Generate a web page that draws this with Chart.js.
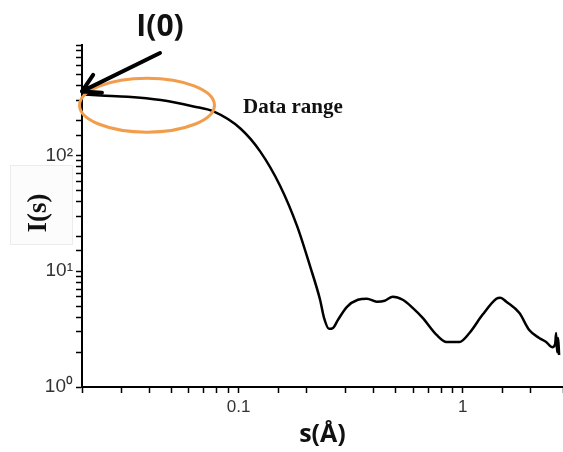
<!DOCTYPE html>
<html lang="en">

<head>
    <meta charset="UTF-8">
    <title>I(s) scattering curve</title>
    <script src="https://cdn.jsdelivr.net/npm/chart.js"></script>
    <style>
        body {
            margin: 0;
            background: #fff;
        }

        #chart {
            display: block;
        }
    </style>
</head>

<body>
    <canvas id="chart" width="563" height="452"></canvas>

    <script>
        // curve: s in 1/A, intensity in arbitrary units
        const sValues = [0.0202, 0.0243, 0.032, 0.0449, 0.0629, 0.0772, 0.1018, 0.1249, 0.1532, 0.1823,
            0.2084, 0.2308, 0.2404, 0.253, 0.2636, 0.2774, 0.3042, 0.3404, 0.3733, 0.4135,
            0.4487, 0.4871, 0.5395, 0.5975, 0.6623, 0.7642, 0.8467, 0.9667, 1.071, 1.224,
            1.412, 1.471, 1.564, 1.786, 1.979, 2.192, 2.355, 2.504, 2.583, 2.609, 2.636, 2.663, 2.69];
        const intensity = [337, 330, 322, 301, 265, 240, 171, 108, 54.5, 24.5,
            11.0, 5.67, 3.96, 3.18, 3.24, 3.80, 4.93, 5.67, 5.79, 5.45,
            5.56, 6.03, 5.67, 4.83, 3.96, 2.82, 2.45, 2.45, 2.93, 4.20,
            5.79, 5.91, 5.45, 4.37, 3.11, 2.65, 2.45, 2.21, 2.35, 2.93, 2.00, 2.65, 1.89];

        const xTickValues = [0.1, 1];
        const xTickLabels = ['0.1', '1'];
        const yTickValues = [1, 10, 100];
        const yTickLabels = ['10\u2070', '10\u00b9', '10\u00b2'];

        function pickLabel(v, values, labels) {
            const i = values.findIndex(t => Math.abs(v - t) / t < 1e-6);
            return i >= 0 ? labels[i] : '';
        }

        // extra drawing: y title box, I(0) arrow, orange ellipse, "Data range"
        const annotations = {
            id: 'annotations',
            afterDraw(chart) {
                const ctx = chart.ctx;
                const x = chart.scales.x;
                const y = chart.scales.y;
                ctx.save();

                // y axis title in its pale box
                ctx.fillStyle = '#fcfcfc';
                ctx.strokeStyle = '#ececec';
                ctx.lineWidth = 1;
                ctx.fillRect(10, 165, 62, 79);
                ctx.strokeRect(10.5, 165.5, 62, 79);
                ctx.translate(39, 213);
                ctx.rotate(-Math.PI / 2);
                ctx.fillStyle = '#111';
                ctx.font = 'bold 27px "Liberation Serif"';
                ctx.textAlign = 'center';
                ctx.textBaseline = 'middle';
                ctx.fillText('I(s)', 0, 0);
                ctx.setTransform(1, 0, 0, 1, 0, 0);

                // orange ellipse round the low-s part of the curve
                const ex0 = x.getPixelForValue(0.0195);
                const ex1 = x.getPixelForValue(0.078);
                const ey = y.getPixelForValue(272);
                ctx.strokeStyle = '#f29d4b';
                ctx.lineWidth = 3;
                ctx.beginPath();
                ctx.ellipse((ex0 + ex1) / 2, ey, (ex1 - ex0) / 2, 27, 0, 0, Math.PI * 2);
                ctx.stroke();

                // arrow pointing at the first point
                const tipX = x.getPixelForValue(sValues[0]) - 1;
                const tipY = y.getPixelForValue(intensity[0]) - 3;
                const tailX = 160, tailY = 53;
                const ang = Math.atan2(tailY - tipY, tailX - tipX);
                ctx.strokeStyle = '#000';
                ctx.lineWidth = 4;
                ctx.lineCap = 'round';
                ctx.beginPath();
                ctx.moveTo(tailX, tailY);
                ctx.lineTo(tipX, tipY);
                for (const d of [-0.52, 0.52]) {
                    ctx.moveTo(tipX, tipY);
                    ctx.lineTo(tipX + 20 * Math.cos(ang + d), tipY + 20 * Math.sin(ang + d));
                }
                ctx.stroke();

                ctx.fillStyle = '#111';
                ctx.textAlign = 'center';
                ctx.textBaseline = 'middle';
                ctx.font = 'bold 30px "Open Sans"';
                ctx.fillText('I(0)', 160, 27);

                ctx.textAlign = 'left';
                ctx.textBaseline = 'alphabetic';
                ctx.font = 'bold 21px "Liberation Serif"';
                ctx.fillText('Data range', 243, 113);

                ctx.restore();
            }
        };

        new Chart(document.getElementById('chart'), {
            type: 'line',
            data: {
                datasets: [{
                    data: sValues.map((s, i) => ({ x: s, y: intensity[i] })),
                    borderColor: '#000',
                    borderWidth: 2.5,
                    pointRadius: 0,
                    cubicInterpolationMode: 'monotone',
                    fill: false
                }]
            },
            options: {
                responsive: false,
                animation: false,
                devicePixelRatio: 1,
                layout: { padding: { top: 45, right: 0, left: 0, bottom: 0 } },
                plugins: {
                    legend: { display: false },
                    tooltip: { enabled: false }
                },
                scales: {
                    x: {
                        type: 'logarithmic',
                        min: 0.02,
                        max: 2.8,
                        border: { display: true, color: '#000', width: 2 },
                        grid: { drawOnChartArea: false, drawTicks: true, tickLength: 6, tickColor: '#000', tickWidth: 1.5 },
                        ticks: {
                            autoSkip: false,
                            maxRotation: 0,
                            padding: 4,
                            color: '#333',
                            font: { family: 'Liberation Sans', size: 17 },
                            callback: v => pickLabel(v, xTickValues, xTickLabels)
                        },
                        title: {
                            display: true,
                            text: 's(Å)',
                            color: '#111',
                            font: { family: 'Open Sans', size: 25, weight: 'bold' },
                            padding: { top: 0, bottom: 2 }
                        },
                        afterFit: scale => {
                            scale.height = 65;
                            scale.paddingLeft = 0;
                            scale.paddingRight = 0;
                        }
                    },
                    y: {
                        type: 'logarithmic',
                        min: 1,
                        max: 900,
                        border: { display: true, color: '#000', width: 2 },
                        grid: { drawOnChartArea: false, drawTicks: true, tickLength: 6, tickColor: '#000', tickWidth: 1.5 },
                        ticks: {
                            autoSkip: false,
                            padding: 3,
                            color: '#333',
                            font: { family: 'Liberation Sans', size: 19 },
                            callback: v => pickLabel(v, yTickValues, yTickLabels)
                        },
                        afterFit: scale => {
                            scale.width = 82;
                            scale.paddingTop = 0;
                            scale.paddingBottom = 0;
                        }
                    }
                }
            },
            plugins: [annotations]
        });
    </script>
</body>

</html>
